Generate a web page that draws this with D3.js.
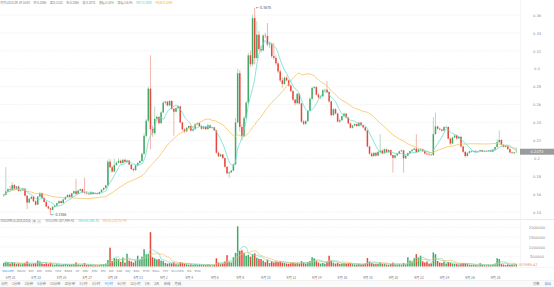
<!DOCTYPE html>
<html><head><meta charset="utf-8">
<script src="https://cdn.jsdelivr.net/npm/d3@7"></script>
<style>
html,body{margin:0;padding:0;background:#fff;}
svg{display:block;font-family:"Noto Sans CJK SC","Noto Sans",sans-serif;}
</style></head><body>
<svg id="c" width="554" height="287"></svg>
<script>
const startTime = new Date(2018,7,20,12,0);
const opens = [
.1585,.1592,.1630,.1655,.1648,.1700,.1662,.1685,.1635,.1641,
.1660,.1582,.1505,.1548,.1570,.1520,.1482,.1572,.1610,.1558,
.1512,.1462,.1440,.1425,.1458,.1470,.1498,.1521,.1500,.1540,
.1568,.1590,.1570,.1608,.1632,.1602,.1640,.1655,.1620,.1612,
.1605,.1598,.1620,.1602,.1612,.1600,.1622,.1648,.1668,.1698,
.1962,.1900,.1852,.1925,.1950,.1972,.1948,.1982,.1960,.1975,
.1930,.1880,.1868,.1920,.1948,.1970,.2050,.2250,.2420,.2778,
.2325,.2280,.2440,.2462,.2392,.2512,.2620,.2632,.2590,.2640,
.2552,.2520,.2560,.2580,.2400,.2322,.2300,.2340,.2360,.2310,
.2325,.2380,.2392,.2358,.2330,.2352,.2325,.2368,.2338,.2345,
.2312,.2062,.2022,.2042,.2002,.1905,.1832,.1842,.1862,.1932,
.2400,.2950,.2350,.2250,.2450,.2620,.3150,.3050,.3565,.3120,
.3380,.3220,.3205,.3370,.3365,.3270,.3280,.3140,.3120,.3060,
.2970,.2870,.2830,.2900,.2870,.2812,.2750,.2655,.2615,.2720,
.2612,.2410,.2385,.2415,.2530,.2665,.2785,.2795,.2710,.2680,
.2692,.2760,.2765,.2740,.2635,.2482,.2548,.2500,.2410,.2425,
.2470,.2498,.2455,.2390,.2340,.2365,.2382,.2360,.2398,.2370,
.2345,.2310,.2132,.2052,.2025,.2060,.2030,.2072,.2085,.2055,
.2100,.2068,.2092,.2035,.2005,.2032,.2052,.2078,.2088,.2000,
.2028,.2058,.2080,.2095,.2108,.2070,.2098,.2102,.2078,.2052,
.2045,.2040,.2035,.2270,.2355,.2330,.2320,.2308,.2348,.2350,
.2220,.2165,.2232,.2255,.2222,.2240,.2132,.2072,.2025,.2060,
.2078,.2072,.2082,.2075,.2080,.2090,.2076,.2082,.2078,.2088,
.2075,.2098,.2125,.2180,.2205,.2150,.2128,.2138,.2102,.2065,
.2058,.2066];
const closes = [
.1592,.1630,.1655,.1648,.1700,.1662,.1685,.1635,.1641,.1660,
.1582,.1505,.1548,.1570,.1520,.1482,.1572,.1610,.1558,.1512,
.1462,.1440,.1425,.1458,.1470,.1498,.1521,.1500,.1540,.1568,
.1590,.1570,.1608,.1632,.1602,.1640,.1655,.1620,.1612,.1605,
.1598,.1620,.1602,.1612,.1600,.1622,.1648,.1668,.1698,.1962,
.1900,.1852,.1925,.1950,.1972,.1948,.1982,.1960,.1975,.1930,
.1880,.1868,.1920,.1948,.1970,.2050,.2250,.2420,.2778,.2325,
.2280,.2440,.2462,.2392,.2512,.2620,.2632,.2590,.2640,.2552,
.2520,.2560,.2580,.2400,.2322,.2300,.2340,.2360,.2310,.2325,
.2380,.2392,.2358,.2330,.2352,.2325,.2368,.2338,.2345,.2312,
.2062,.2022,.2042,.2002,.1905,.1832,.1842,.1862,.1932,.2400,
.2950,.2350,.2250,.2450,.2620,.3150,.3050,.3565,.3120,.3380,
.3220,.3205,.3370,.3365,.3270,.3280,.3140,.3120,.3060,.2970,
.2870,.2830,.2900,.2870,.2812,.2750,.2655,.2615,.2720,.2612,
.2410,.2385,.2415,.2530,.2665,.2785,.2795,.2710,.2680,.2692,
.2760,.2765,.2740,.2635,.2482,.2548,.2500,.2410,.2425,.2470,
.2498,.2455,.2390,.2340,.2365,.2382,.2360,.2398,.2370,.2345,
.2310,.2132,.2052,.2025,.2060,.2030,.2072,.2085,.2055,.2100,
.2068,.2092,.2035,.2005,.2032,.2052,.2078,.2088,.2000,.2028,
.2058,.2080,.2095,.2108,.2070,.2098,.2102,.2078,.2052,.2045,
.2040,.2035,.2270,.2355,.2330,.2320,.2308,.2348,.2350,.2220,
.2165,.2232,.2255,.2222,.2240,.2132,.2072,.2025,.2060,.2078,
.2072,.2082,.2075,.2080,.2090,.2076,.2082,.2078,.2088,.2075,
.2098,.2125,.2180,.2205,.2150,.2128,.2138,.2102,.2065,.2058,
.2066,.2073];
const highs = [
.1600,.1900,.1665,.1690,.1735,.1712,.1690,.1695,.1652,.1672,
.1668,.1590,.1558,.1580,.1576,.1530,.1578,.1625,.1618,.1565,
.1520,.1470,.1448,.1465,.1478,.1505,.1530,.1528,.1548,.1575,
.1598,.1602,.1615,.1640,.1770,.1645,.1662,.1660,.1785,.1628,
.1612,.1628,.1625,.1618,.1618,.1628,.1655,.1675,.1705,.1985,
.1990,.1912,.1995,.1962,.2000,.1985,.1992,.1995,.1985,.1982,
.1938,.1892,.1928,.1955,.1978,.2062,.2280,.2440,.2800,.3150,
.2365,.2580,.2478,.2470,.2525,.2640,.2645,.2640,.2650,.2648,
.2560,.2570,.2592,.2588,.2410,.2335,.2350,.2368,.2366,.2332,
.2390,.2400,.2398,.2372,.2362,.2360,.2385,.2375,.2352,.2350,
.2318,.2075,.2050,.2048,.2008,.1912,.1852,.1870,.1940,.2450,
.3000,.2985,.2380,.2470,.2640,.3180,.3200,.3600,.3678,.3530,
.3420,.3260,.3385,.3400,.3510,.3300,.3290,.3290,.3150,.3075,
.2985,.2900,.2915,.2920,.2880,.2825,.2760,.2665,.2730,.2728,
.2620,.2430,.2425,.2540,.2680,.2800,.2810,.2805,.2728,.2700,
.2770,.2775,.2860,.2750,.2645,.2560,.2560,.2510,.2445,.2478,
.2510,.2505,.2462,.2400,.2372,.2390,.2388,.2405,.2410,.2380,
.2350,.2318,.2140,.2065,.2072,.2068,.2080,.2270,.2100,.2110,
.2108,.2098,.2098,.2042,.2040,.2060,.2085,.2095,.2095,.2035,
.2065,.2085,.2100,.2115,.2270,.2105,.2112,.2108,.2085,.2065,
.2058,.2050,.2460,.2510,.2362,.2342,.2325,.2360,.2365,.2355,
.2230,.2240,.2262,.2262,.2248,.2245,.2140,.2080,.2068,.2085,
.2090,.2088,.2090,.2085,.2095,.2096,.2088,.2090,.2092,.2095,
.2102,.2130,.2210,.2310,.2212,.2158,.2145,.2142,.2110,.2072,
.2070,.2120];
const lows = [
.1570,.1585,.1620,.1640,.1645,.1655,.1650,.1628,.1620,.1635,
.1575,.1432,.1495,.1540,.1512,.1470,.1478,.1565,.1552,.1505,
.1455,.1430,.1366,.1420,.1450,.1462,.1490,.1492,.1495,.1532,
.1560,.1562,.1566,.1600,.1595,.1598,.1632,.1615,.1605,.1598,
.1590,.1592,.1595,.1596,.1595,.1598,.1615,.1640,.1660,.1690,
.1890,.1840,.1845,.1915,.1942,.1940,.1940,.1955,.1950,.1925,
.1872,.1850,.1860,.1912,.1940,.1962,.2040,.2230,.2400,.2100,
.2240,.2262,.2420,.2380,.2385,.2500,.2598,.2580,.2582,.2540,
.2252,.2510,.2550,.2390,.2310,.2280,.2292,.2330,.2300,.2298,
.2318,.2370,.2350,.2318,.2322,.2318,.2320,.2330,.2328,.2305,
.2050,.2012,.2015,.1995,.1895,.1822,.1780,.1835,.1855,.1925,
.2390,.2300,.2200,.2235,.2440,.2610,.3020,.3030,.3050,.3100,
.3200,.3180,.3195,.3340,.3250,.3230,.3120,.3100,.3040,.2950,
.2850,.2790,.2820,.2860,.2800,.2740,.2640,.2590,.2600,.2600,
.2395,.2370,.2370,.2405,.2520,.2650,.2770,.2700,.2665,.2660,
.2685,.2740,.2730,.2620,.2470,.2470,.2490,.2400,.2395,.2418,
.2460,.2445,.2380,.2330,.2332,.2358,.2352,.2355,.2360,.2335,
.2300,.2120,.2040,.2010,.2015,.2018,.2025,.2062,.2045,.2050,
.2060,.2062,.2025,.1840,.1998,.2025,.2045,.2070,.1840,.1992,
.2020,.2050,.2072,.2088,.2060,.2065,.2085,.2070,.2045,.2035,
.2030,.2028,.2030,.2262,.2320,.2312,.2300,.2302,.2335,.2210,
.2150,.2158,.2225,.2210,.2215,.2120,.2060,.2010,.2018,.2052,
.2065,.2066,.2068,.2070,.2072,.2070,.2068,.2072,.2074,.2070,
.2070,.2090,.2118,.2170,.2140,.2120,.2118,.2095,.2055,.2048,
.2040,.2066];
const volumes = [
180000,240000,220000,150000,210000,170000,130000,160000,110000,140000,
190000,260000,150000,120000,140000,170000,300000,260000,150000,130000,
160000,120000,200000,110000,90000,120000,100000,80000,110000,130000,
120000,90000,110000,120000,210000,100000,80000,90000,180000,90000,
70000,80000,60000,70000,60000,90000,110000,120000,150000,330000,
960000,280000,430000,400000,380000,240000,460000,200000,650000,300000,
260000,200000,300000,550000,350000,500000,880000,620000,640000,1750000,
470000,420000,360000,380000,300000,280000,180000,150000,170000,160000,
210000,120000,110000,220000,190000,140000,120000,100000,110000,80000,
130000,90000,100000,80000,90000,70000,110000,80000,60000,90000,
420000,200000,140000,160000,250000,580000,240000,200000,470000,700000,
2050000,800000,830000,700000,550000,600000,500000,630000,670000,450000,
400000,380000,300000,220000,350000,180000,260000,200000,240000,230000,
260000,200000,180000,150000,140000,170000,210000,160000,180000,150000,
270000,200000,150000,230000,280000,470000,420000,300000,200000,150000,
180000,140000,250000,550000,300000,200000,150000,190000,130000,150000,
170000,140000,160000,180000,120000,110000,100000,130000,110000,120000,
150000,430000,250000,180000,140000,120000,130000,220000,120000,140000,
100000,90000,130000,200000,110000,100000,120000,90000,180000,110000,
470000,300000,250000,420000,630000,460000,550000,260000,200000,250000,
150000,160000,720000,630000,280000,200000,180000,250000,150000,230000,
180000,150000,130000,120000,100000,160000,180000,170000,120000,100000,
80000,90000,70000,60000,170000,80000,70000,60000,90000,70000,
110000,150000,420000,380000,120000,100000,80000,107743.5,71200.08,95500.5,
62000,107989.42];
const priceTicks = [0.14,0.16,0.18,0.2,0.22,0.24,0.26,0.28,0.3,0.32,0.34,0.36];
const volumeTicks = [500000,1000000,1500000,2000000];
const dateTicks = ["2018-08-21","2018-08-23","2018-08-25","2018-08-27","2018-08-29","2018-08-31",
"2018-09-02","2018-09-04","2018-09-06","2018-09-08","2018-09-10","2018-09-12","2018-09-14",
"2018-09-16","2018-09-18","2018-09-20","2018-09-22","2018-09-24","2018-09-26","2018-09-28"];
const headerItems = [
 {t:"时间:2018-09-29 16:00", c:"#777"},
 {t:"开:0.2066", c:"#777"},
 {t:"高:0.2120", c:"#777"},
 {t:"低:0.2066", c:"#777"},
 {t:"收:0.2073", c:"#777"},
 {t:"涨幅:", c:"#777", v:"0.33%", vc:"#3fae6a"},
 {t:"振幅:2.61%", c:"#777"},
 {t:"MA7:0.2098", c:"#4fd4c0"},
 {t:"MA30:0.2094", c:"#f5b030"}];
const volHeader = [
 {t:"VOLUME:107,989.42", c:"#777"},
 {t:"MA5:88,886.70", c:"#4fd4c0"},
 {t:"MA10:110,757.94", c:"#f5b030"}];
const indicatorTabs = ["VOLUME","MACD","SMI","DMI","DMA","TRIX","BRAR","VR","OBV","EMV","RSI","WR","SAR","KDJ","ROC","MTM","BOLL","PSY","StochRSI","MA","EMA"];
const periodTabs = ["分时","1分钟","3分钟","5分钟","15分钟","30分钟","1小时","2小时","4小时","6小时","12小时","1天","3天","周线","月线"];
const activePeriod = "4小时";

const UP = "#45a866", DOWN = "#e5493d";
const MA7C = "#6fdccb", MA30C = "#f7c25c";
const svg = d3.select("#c");
const n = closes.length;
const times = d3.range(n).map(i => new Date(startTime.getTime() + i*4*3600*1000));
const x = d3.scaleTime().domain([times[0], times[n-1]]).range([3.7, 516.3]);
const y = d3.scaleLinear().domain([0.14,0.36]).range([212,15]);
const yv = d3.scaleLinear().domain([0,2000000]).range([266.5,227.3]);
const parse = d3.timeParse("%Y-%m-%d");

// frame lines
svg.append("line").attr("x1",0).attr("x2",554).attr("y1",219.5).attr("y2",219.5).attr("stroke","#e4e4e4").attr("stroke-width",0.8);
svg.append("line").attr("x1",520.5).attr("x2",520.5).attr("y1",0).attr("y2",267).attr("stroke","#eeeeee").attr("stroke-width",0.6);
svg.append("line").attr("x1",0).attr("x2",554).attr("y1",267.5).attr("y2",267.5).attr("stroke","#eeeeee").attr("stroke-width",0.6);
svg.append("rect").attr("x",0).attr("y",280.5).attr("width",554).attr("height",6.5).attr("fill","#fafafa");
svg.append("line").attr("x1",0).attr("x2",554).attr("y1",280.5).attr("y2",280.5).attr("stroke","#eaeaea").attr("stroke-width",0.6);

// grid
svg.append("g").selectAll("line").data(priceTicks).join("line")
  .attr("x1",0).attr("x2",520).attr("y1",d=>y(d)).attr("y2",d=>y(d))
  .attr("stroke","#e3e3e3").attr("stroke-width",0.5).attr("stroke-dasharray","1.2,1.2");
svg.append("g").selectAll("line").data(volumeTicks).join("line")
  .attr("x1",0).attr("x2",520).attr("y1",d=>yv(d)).attr("y2",d=>yv(d))
  .attr("stroke","#e3e3e3").attr("stroke-width",0.5).attr("stroke-dasharray","1.2,1.2");

// axes
const fmtP = d => String(+d.toFixed(2));
const ay = svg.append("g").attr("transform","translate(537,0)")
  .call(d3.axisRight(y).tickValues(priceTicks).tickFormat(fmtP).tickSize(0).tickPadding(0));
ay.select(".domain").remove();
ay.selectAll("text").attr("text-anchor","middle").attr("x",0).attr("fill","#8a8a8a").style("font-size","3.7px").style("font-family","'DejaVu Sans',sans-serif");
const av = svg.append("g").attr("transform","translate(537,0)")
  .call(d3.axisRight(yv).tickValues(volumeTicks).tickFormat(d3.format("d")).tickSize(0).tickPadding(0));
av.select(".domain").remove();
av.selectAll("text").attr("text-anchor","middle").attr("x",0).attr("fill","#8a8a8a").style("font-size","3.7px").style("font-family","'DejaVu Sans',sans-serif");
const ax = svg.append("g").attr("transform","translate(0,276.3)")
  .call(d3.axisBottom(x).tickValues(dateTicks.map(parse)).tickFormat(d => `${d.getMonth()+1}月 ${d.getDate()}`).tickSize(0).tickPadding(0));
ax.select(".domain").remove();
ax.selectAll("text").attr("fill","#777").style("font-size","3.3px").style("font-family","'Noto Sans CJK SC',sans-serif");

// MA helper (uses available history at start)
function ma(arr, k){ return arr.map((_,i)=> d3.mean(arr.slice(Math.max(0,i-k+1), i+1))); }
const ma7 = ma(closes,7), ma30 = ma(closes,30);
const vma5 = ma(volumes,5), vma10 = ma(volumes,10);

// candles
const g = svg.append("g");
const idx = d3.range(n);
g.selectAll("line.w").data(idx).join("line").attr("class","w")
  .attr("x1",i=>x(times[i])).attr("x2",i=>x(times[i]))
  .attr("y1",i=>y(highs[i])).attr("y2",i=>y(lows[i]))
  .attr("stroke",i=>closes[i]>=opens[i]?UP:DOWN).attr("stroke-width",0.55).attr("stroke-opacity",0.75);
g.selectAll("rect.b").data(idx).join("rect").attr("class","b")
  .attr("x",i=>x(times[i])-0.75).attr("width",1.5)
  .attr("y",i=>y(Math.max(opens[i],closes[i])))
  .attr("height",i=>Math.max(0.5, Math.abs(y(opens[i])-y(closes[i]))))
  .attr("fill",i=>closes[i]>=opens[i]?UP:DOWN);

const line = d3.line().x((d,i)=>x(times[i])).y(d=>y(d)).curve(d3.curveMonotoneX);
svg.append("path").attr("d",line(ma30)).attr("fill","none").attr("stroke",MA30C).attr("stroke-width",0.8);
svg.append("path").attr("d",line(ma7)).attr("fill","none").attr("stroke",MA7C).attr("stroke-width",0.8);

// volume bars
svg.append("g").selectAll("rect").data(idx).join("rect")
  .attr("x",i=>x(times[i])-0.75).attr("width",1.5)
  .attr("y",i=>yv(volumes[i])).attr("height",i=>yv(0)-yv(volumes[i]))
  .attr("fill",i=>closes[i]>=opens[i]?UP:DOWN);
const vline = d3.line().x((d,i)=>x(times[i])).y(d=>yv(d)).curve(d3.curveMonotoneX);
svg.append("path").attr("d",vline(vma10)).attr("fill","none").attr("stroke",MA30C).attr("stroke-width",0.7);
svg.append("path").attr("d",vline(vma5)).attr("fill","none").attr("stroke",MA7C).attr("stroke-width",0.7);

// max / min markers
const iMax = d3.maxIndex(highs), iMin = d3.minIndex(lows);
svg.append("text").attr("x",x(times[iMax])+1).attr("y",y(highs[iMax])+1.2)
  .attr("fill","#555").style("font-size","3.6px").text("← " + highs[iMax].toFixed(4));
svg.append("text").attr("x",x(times[iMin])+0.5).attr("y",y(lows[iMin])+1.2)
  .attr("fill","#555").style("font-size","3.6px").text("← " + lows[iMin].toFixed(4));

// current price tag
const last = closes[n-1];
svg.append("rect").attr("x",520).attr("y",y(last)-3).attr("width",34).attr("height",6).attr("fill","#9b9b9b");
svg.append("text").attr("x",537).attr("y",y(last)+1.3).attr("text-anchor","middle").attr("fill","#fff")
  .style("font-size","3.7px").style("font-family","'DejaVu Sans',sans-serif").text(last.toFixed(4));
// current volume tag
const lv = volumes[n-1];
svg.append("line").attr("x1",513).attr("x2",517).attr("y1",yv(lv)).attr("y2",yv(lv)).attr("stroke","#f08a4b").attr("stroke-width",0.5);
svg.append("text").attr("x",518).attr("y",yv(lv)+1.2).attr("fill","#f08a4b")
  .style("font-size","3.6px").style("font-family","'DejaVu Sans',sans-serif").text(d3.format(".2f")(lv));

// header (laid out left to right)
const hdr = svg.append("g").style("font-size","2.9px");
let hx = 0.5;
headerItems.forEach(h => {
  const t = hdr.append("text").attr("x",hx).attr("y",4.1).attr("fill",h.c).text(h.t);
  if (h.v) t.append("tspan").attr("fill",h.vc).text(h.v);
  hx += t.node().getComputedTextLength() + 3.8;
});
const vh = svg.append("g").style("font-size","3.1px");
const vt = vh.append("text").attr("x",0.5).attr("y",222.3).attr("fill","#666").text("VOLUME(5,10,0,0,0,0)");
let vx = vt.node().getComputedTextLength() + 2;
[0,1].forEach(k=>{
  vh.append("rect").attr("x",vx).attr("y",219.9).attr("width",3.2).attr("height",3.2).attr("fill","#f2f2f2").attr("stroke","#ccc").attr("stroke-width",0.3);
  vh.append("text").attr("x",vx+1.6).attr("y",222.4).attr("text-anchor","middle").attr("fill","#777").style("font-size","2.8px").text(k===0?"⚙":"×");
  vx += 5;
});
vx += 3;
volHeader.forEach(h => {
  const t = vh.append("text").attr("x",vx).attr("y",222.3).attr("fill",h.c).text(h.t);
  vx += t.node().getComputedTextLength() + 4;
});

// indicator tabs
const tabs = svg.append("g").style("font-size","2.8px").style("font-family","'DejaVu Sans',sans-serif");
let tx = 2;
indicatorTabs.forEach((t,k) => {
  const el = tabs.append("text").attr("x",tx).attr("y",272).attr("fill",k===0?"#3b8ee8":"#888").text(t);
  tx += el.node().getComputedTextLength() + 3.2;
});
// period toolbar
const per = svg.append("g").style("font-size","3.3px");
let px = 1;
periodTabs.forEach(t => {
  const el = per.append("text").attr("x",px).attr("y",285).attr("fill",t===activePeriod?"#3b8ee8":"#777").text(t);
  px += el.node().getComputedTextLength() + 4.3;
});
svg.append("text").attr("x",533).attr("y",285).attr("fill","#777").style("font-size","3.3px").text("对数");
svg.append("text").attr("x",544.5).attr("y",285).attr("fill","#3b8ee8").style("font-size","3.3px").text("自动");
</script>
</body></html>
